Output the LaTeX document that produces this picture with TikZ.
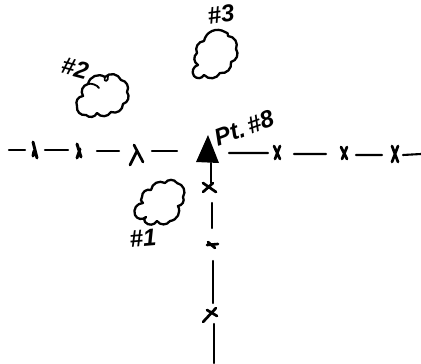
\documentclass[tikz,border=0pt]{standalone}
\usepackage{fontspec}
\setmainfont{Liberation Sans}
\tikzset{
  ink/.style={draw=black,line width=2.1pt,line cap=round,line join=round},
  mark stroke/.style={draw=black,line width=2.7pt,line cap=round,line join=round},
  bump/.style={bend left=55,looseness=1.1},
  hand/.style={font=\bfseries\itshape\fontsize{24}{24}\selectfont,inner sep=0pt,text=black}
}
\begin{document}
\begin{tikzpicture}[x=1pt,y=-1pt]
\useasboundingbox (0,0) rectangle (421,364);
% clouds
\draw[ink,line width=2.3pt] (88,84) to[bump] (105,77) to[bump] (121,80) to[bump] (127,92) to[bump] (123,104) to[bump] (111,112) to[bump] (97,113) to[bump] (86,115) to[bump] (77,106) to[bump] (83,96) to[bump] (88,84) -- cycle;
\draw[ink,line width=1.8pt] (88,84) .. controls (92,83) and (97,85) .. (99,88);
\draw[ink,line width=1.7pt] (105,77) .. controls (103,83) and (109,82) .. (108,76);
\draw[ink,line width=2.3pt] (204,41) to[bump] (225,32) to[bump] (228,36) to[bump] (236,49) to[bump] (231,62) to[bump] (220,73) to[bump] (204,75) to[bump] (194,76) to[bump] (198,65) to[bump] (197,53) to[bump] (204,41) -- cycle;
\draw[ink,line width=2.3pt] (151,190) to[bump] (165,183) to[bump] (177,183) to[bump] (183,197) to[bump] (178,206) to[bump] (170,221) to[bump] (157,221) to[bump] (145,222) to[bump] (146,217) to[bump] (135,215) to[bump] (143,203) to[bump] (142,197) to[bump] (151,190) -- cycle;
% triangle
\fill (208,135) -- (196,162) -- (219,163) -- cycle;
% horizontal line
\draw[ink] (9,150) -- (25,150) (45,150) -- (68,150) (97,151) -- (119,151) (152,151) -- (177,151);
\draw[mark stroke,line width=3pt] (33,142) -- (37,158) (34,151) -- (33,156);
\draw[mark stroke,line width=3pt] (77,144) -- (81,157) (80,149) -- (77,158);
\draw[mark stroke] (134,145) -- (143,162) (137,151) -- (130,165);
\draw[ink] (229,153) -- (268,153) (294,154) -- (326,154) (356,155) -- (382,155) (403,155) -- (421,154);
\draw[mark stroke] (274,146) -- (280,159) (280,146) -- (275,159);
\draw[mark stroke] (341,147) -- (347,159) (347,147) -- (342,159);
\draw[mark stroke] (392,146) -- (398,162) (398,146) -- (392,162);
% vertical line
\draw[ink] (211,163) -- (211,183) (212,203) -- (212,228) (213,261) -- (213,303) (214,324) -- (214,363);
\draw[mark stroke] (203,183) -- (216,192) (213,183) -- (203,192);
\draw[mark stroke] (207,245) -- (218,244) (208,242) -- (215,248);
\draw[mark stroke] (203,322) -- (216,308) (207,310) -- (217,316);
% labels
\node[hand,rotate=8] (lab3) at (221,14) {\#3};
\node[hand,rotate=-15] (lab2) at (75,68) {\#2};
\node[hand,rotate=5] (lab1) at (143,238) {\#1};
\node[hand,rotate=20] (pt) at (244,128) {Pt.\,\#8};
\end{tikzpicture}
\end{document}
